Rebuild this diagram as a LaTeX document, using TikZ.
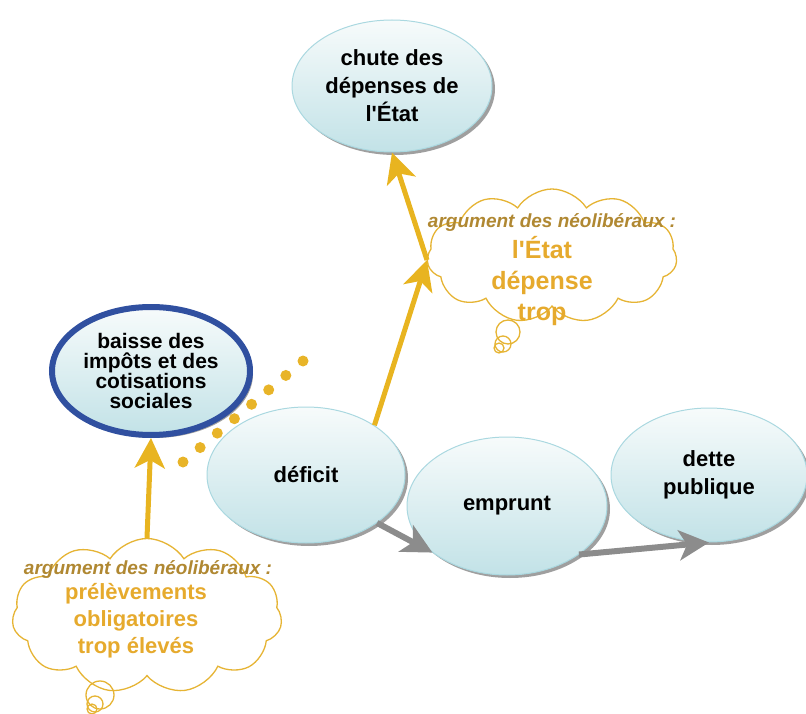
\documentclass[tikz,border=0pt]{standalone}
\usepackage{fontspec}
\setmainfont{Liberation Sans}
\usetikzlibrary{shapes.geometric,shapes.symbols,arrows.meta,shadows,calc}
\definecolor{arrY}{RGB}{232,180,32}
\definecolor{dotY}{RGB}{232,180,40}
\definecolor{cloudY}{RGB}{230,180,52}
\definecolor{argC}{RGB}{176,136,50}
\definecolor{goldC}{RGB}{230,170,45}
\definecolor{arrG}{RGB}{140,140,140}
\definecolor{bubBorder}{RGB}{170,216,224}
\definecolor{bubTop}{RGB}{247,251,251}
\definecolor{bubBot}{RGB}{194,226,231}
\definecolor{baisseBlue}{RGB}{48,80,160}
\begin{document}
\begin{tikzpicture}[x=1pt,y=-1pt,
  bubble/.style={ellipse, draw=bubBorder, line width=1pt, top color=bubTop,
    bottom color=bubBot, inner sep=0pt, align=center,
    font=\bfseries\fontsize{22}{28}\selectfont,
    drop shadow={shadow xshift=3pt, shadow yshift=-3pt, opacity=.5, fill=black!75}},
  thoughtcloud/.style={cloud, cloud puffs=11, cloud puff arc=115, cloud ignores aspect,
    draw=cloudY, line width=1.3pt, fill=white, inner sep=0pt},
  bublet/.style={draw=cloudY, line width=1.3pt},
  argtext/.style={font=\bfseries\itshape\fontsize{19}{22}\selectfont, text=argC, inner sep=0pt},
  goldtext/.style={font=\bfseries\fontsize{22}{27}\selectfont, text=goldC, align=center, inner sep=0pt},
  yarrow/.style={draw=arrY, line width=5pt, -{Stealth[length=30pt,width=30pt,inset=8pt]}},
  garrow/.style={draw=arrG, line width=6pt, -{Stealth[length=30pt,width=30pt,inset=8pt]}}
]
\useasboundingbox (0,0) rectangle (806,714);

% clouds
\node[thoughtcloud, minimum width=250pt, minimum height=134pt] (cl1) at (552,256) {};
\draw[bublet] (508,332) circle[radius=12pt];
\draw[bublet] (503,344) circle[radius=8pt];
\draw[bublet] (499,348) circle[radius=5pt];
\node[argtext] (t1) at (552,223) {argument des néolibéraux :};
\node[goldtext, font=\bfseries\fontsize{25}{31}\selectfont] (t1b) at (542,281) {l\textquotesingle État\\dépense\\trop};

\node[thoughtcloud, minimum width=270pt, minimum height=155pt] (cl2) at (147,616) {};
\draw[bublet] (100,695) circle[radius=14pt];
\draw[bublet] (95,704) circle[radius=8pt];
\draw[bublet] (92,709) circle[radius=5pt];
\node[argtext] (t2) at (148,570) {argument des néolibéraux :};
\node[goldtext] (t2b) at (136,621) {prélèvements\\obligatoires\\trop élevés};

% ellipses
\node[bubble, minimum width=200pt, minimum height=132pt] (chute) at (392,86) {chute des\\dépenses de\\l\textquotesingle État};
\node[bubble, draw=baisseBlue, line width=6pt, minimum width=198pt, minimum height=128pt,
  font=\bfseries\fontsize{21}{20}\selectfont] (baisse) at (151,371) {baisse des\\impôts et des\\cotisations\\sociales};
\node[bubble, minimum width=198pt, minimum height=136pt] (deficit) at (306,475) {déficit};
\node[bubble, minimum width=200pt, minimum height=138pt] (emprunt) at (507,506) {emprunt};
\node[bubble, minimum width=196pt, minimum height=134pt] (dette) at (709,475) {dette\\publique};

% dotted line
\coordinate (d1) at (183,462);
\coordinate (d2) at (303,361);
\foreach \t in {0,...,7} \fill[dotY] ($(d1)!\t/7!(d2)$) circle[radius=5.5pt];

% arrows
\coordinate (j) at (427,260);
\draw[yarrow] (deficit.36) -- (j);
\draw[yarrow] (j) -- (chute.south);
\draw[yarrow] (cl2.north) -- (baisse.south);
\draw[garrow] (deficit.-34) -- (emprunt.212);
\draw[garrow] (emprunt.-34) -- (dette.south);
\end{tikzpicture}
\end{document}
